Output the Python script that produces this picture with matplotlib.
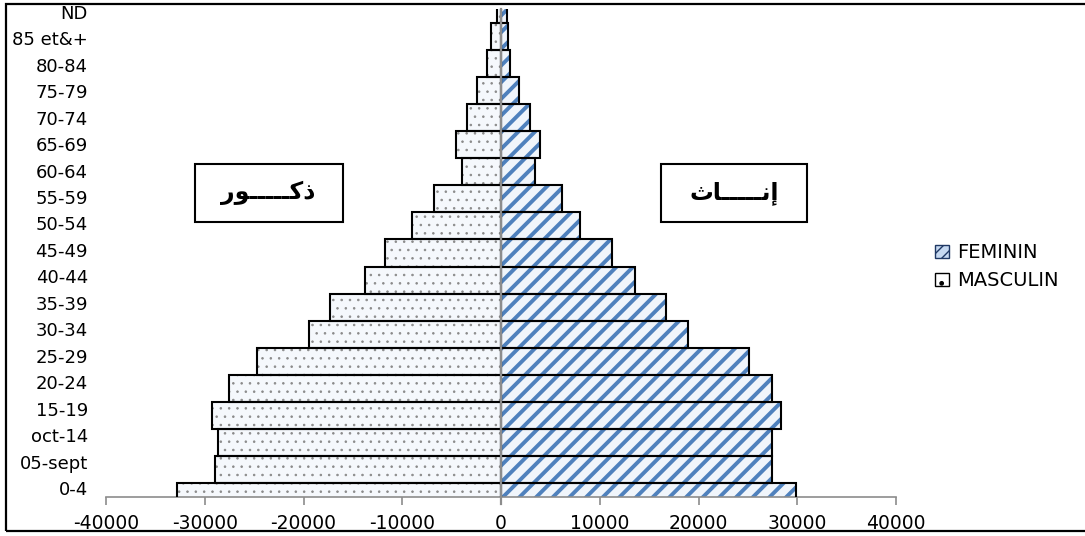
import matplotlib
matplotlib.use('Agg')
import matplotlib.pyplot as plt
from matplotlib.patches import Patch, Rectangle
import numpy as np

# Data: age groups from bottom (0-4) to top (ND)
ages = ['0-4', '05-sept', 'oct-14', '15-19', '20-24', '25-29', '30-34', '35-39',
        '40-44', '45-49', '50-54', '55-59', '60-64', '65-69', '70-74', '75-79',
        '80-84', '85 et&+', 'ND']
masculin = [-32800, -29000, -28700, -29250, -27550, -24700, -19450, -17350,
            -13800, -11700, -9050, -6800, -4000, -4550, -3400, -2450,
            -1400, -1000, -450]
feminin = [29900, 27400, 27400, 28350, 27450, 25150, 18950, 16700,
           13600, 11250, 8000, 6150, 3450, 3900, 2950, 1850,
           900, 700, 600]
xticks = [-40000, -30000, -20000, -10000, 0, 10000, 20000, 30000, 40000]

# Arabic labels (ذكور / إناث) written with presentation forms in visual order,
# since matplotlib does not shape right-to-left text
label_hommes = '\uFEAD\uFEEE' + '\u0640' * 5 + '\uFEDB\uFEAB'
label_femmes = '\uFE99\uFE8E' + '\u0640' * 5 + '\uFEE7\uFE87'

W, H = 1085, 536
fig = plt.figure(figsize=(W / 100, H / 100), dpi=100)
ax = fig.add_axes([106 / W, 1 - 497 / H, 790 / W, 488 / H])

y = np.arange(len(ages))

# Male bars: light fill with grey dots
plt.rcParams['hatch.linewidth'] = 0.6
ax.barh(y, masculin, height=1.0, color='#f5f8fc', edgecolor='#8a8a8a',
        hatch='..', linewidth=0, zorder=2)

# Female bars: light blue with diagonal blue stripes
plt.rcParams['hatch.linewidth'] = 2.8
ax.barh(y, feminin, height=1.0, color='#f0f5fb', edgecolor='#4f81bd',
        hatch='//', linewidth=0, zorder=2)

# Outlines
ax.barh(y, masculin, height=1.0, color='none', edgecolor='black', linewidth=1.5, zorder=3)
ax.barh(y, feminin, height=1.0, color='none', edgecolor='black', linewidth=1.5, zorder=3)

# Vertical axis at zero
ax.plot([0, 0], [-0.25, 18], color='#8c8c8c', linewidth=1.6, zorder=4, clip_on=False)

ax.set_xlim(-40000, 40000)
ax.set_ylim(0, 18)
ax.set_xticks(xticks)
ax.set_xticklabels([str(v) for v in xticks], fontsize=13.5)
# category labels sit slightly above each bar, as in the original
ax.set_yticks(y * 0.976 + 0.33)
ax.set_yticklabels(ages, fontsize=13)

for s in ['top', 'right', 'left']:
    ax.spines[s].set_visible(False)
ax.spines['bottom'].set_color('#8c8c8c')
ax.spines['bottom'].set_linewidth(1.2)
ax.tick_params(axis='x', direction='out', length=6, color='#8c8c8c', width=1.2, pad=6)
ax.tick_params(axis='y', length=0, pad=13)

# Arabic boxes
fig.text(268 / W, 1 - 193 / H, label_hommes, ha='center', va='center',
         fontsize=17, fontweight='bold', family='DejaVu Sans')
fig.text(734 / W, 1 - 193 / H, label_femmes, ha='center', va='center',
         fontsize=17, fontweight='bold', family='DejaVu Sans')
fig.add_artist(Rectangle((195 / W, 1 - 222 / H), 148 / W, 58 / H, fill=False,
                         edgecolor='black', linewidth=1.5, transform=fig.transFigure))
fig.add_artist(Rectangle((661 / W, 1 - 222 / H), 146 / W, 58 / H, fill=False,
                         edgecolor='black', linewidth=1.5, transform=fig.transFigure))

# Legend
plt.rcParams['hatch.linewidth'] = 1.0
handles = [Patch(facecolor='#c6d9f1', edgecolor='#1f3864', hatch='///', label='FEMININ'),
           Patch(facecolor='white', edgecolor='black', hatch='.', label='MASCULIN')]
fig.legend(handles=handles, loc='upper left', bbox_to_anchor=(917 / W, 1 - 226 / H),
           frameon=False, fontsize=14, handlelength=0.75, handleheight=0.7,
           handletextpad=0.4, labelspacing=0.45)

# Outer frame
fig.add_artist(Rectangle((6 / W, 1 - 531 / H), 1.1, 527 / H, fill=False,
                         edgecolor='black', linewidth=1.6, transform=fig.transFigure))

fig.savefig('out.png', dpi=100)
